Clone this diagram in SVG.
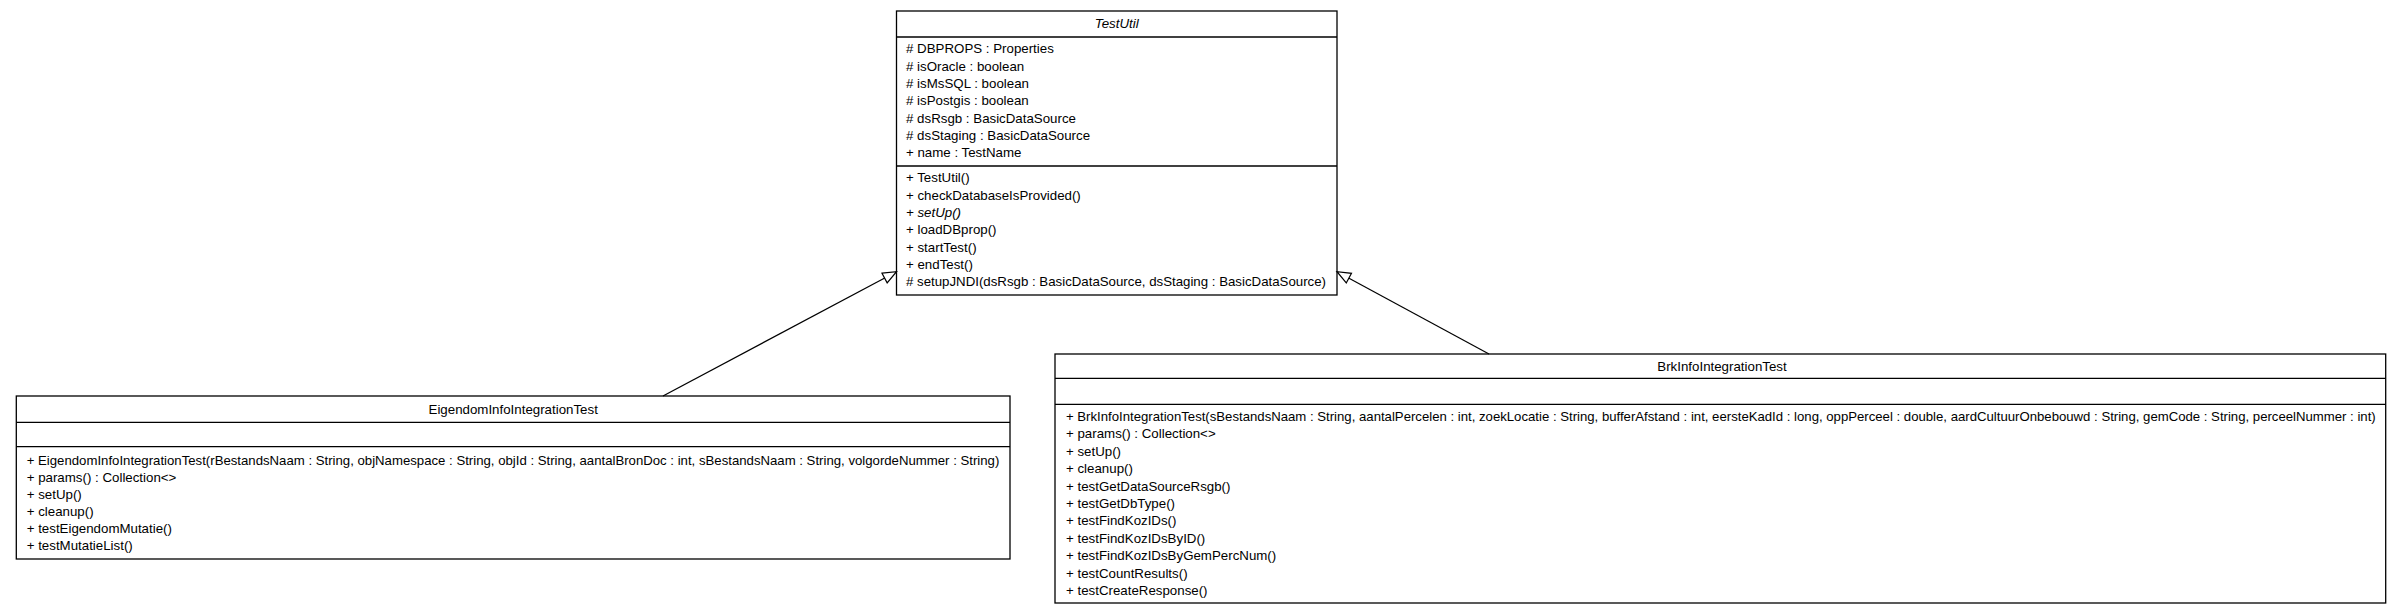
<svg xmlns="http://www.w3.org/2000/svg" width="2402" height="613" viewBox="0 0 2402 613">
<style>
.box{fill:#fff;stroke:#000;stroke-width:1.3}
.sep{stroke:#000;stroke-width:1.3}
text{font-family:"Liberation Sans",Arial,sans-serif;font-size:13.3px;fill:#000}
.t{text-anchor:middle}
.i{font-style:italic}
.edge{fill:none;stroke:#000;stroke-width:1.2}
</style>
<defs>
<marker id="gen" markerUnits="userSpaceOnUse" markerWidth="18" markerHeight="14" refX="15" refY="7" orient="auto" viewBox="0 0 18 14">
<path d="M1.5,1.5 L15,7 L1.5,12.5 Z" fill="#fff" stroke="#000" stroke-width="1.2"/>
</marker>
</defs>
<rect width="2402" height="613" fill="#fff"/>

<g id="TestUtil">
<rect class="box" x="896.5" y="11" width="440.5" height="284"/>
<line class="sep" x1="896.5" y1="37" x2="1337" y2="37"/>
<line class="sep" x1="896.5" y1="166" x2="1337" y2="166"/>
<text class="t i" x="1116.7" y="28">TestUtil</text>
<text x="906" y="53.3"># DBPROPS : Properties</text>
<text x="906" y="70.6"># isOracle : boolean</text>
<text x="906" y="87.9"># isMsSQL : boolean</text>
<text x="906" y="105.2"># isPostgis : boolean</text>
<text x="906" y="122.5"># dsRsgb : BasicDataSource</text>
<text x="906" y="139.8"># dsStaging : BasicDataSource</text>
<text x="906" y="157.1">+ name : TestName</text>
<text x="906" y="182.3">+ TestUtil()</text>
<text x="906" y="199.6">+ checkDatabaseIsProvided()</text>
<text class="i" x="906" y="216.9">+ setUp()</text>
<text x="906" y="234.2">+ loadDBprop()</text>
<text x="906" y="251.5">+ startTest()</text>
<text x="906" y="268.8">+ endTest()</text>
<text x="906" y="286.3" textLength="420" lengthAdjust="spacingAndGlyphs"># setupJNDI(dsRsgb : BasicDataSource, dsStaging : BasicDataSource)</text>
</g>

<g id="EigendomInfoIntegrationTest">
<rect class="box" x="16.3" y="396" width="993.7" height="163"/>
<line class="sep" x1="16.3" y1="422.3" x2="1010" y2="422.3"/>
<line class="sep" x1="16.3" y1="446.7" x2="1010" y2="446.7"/>
<text class="t" x="513.2" y="413.5">EigendomInfoIntegrationTest</text>
<text x="26.7" y="465" textLength="972.6" lengthAdjust="spacingAndGlyphs">+ EigendomInfoIntegrationTest(rBestandsNaam : String, objNamespace : String, objId : String, aantalBronDoc : int, sBestandsNaam : String, volgordeNummer : String)</text>
<text x="26.7" y="482">+ params() : Collection&lt;&gt;</text>
<text x="26.7" y="499">+ setUp()</text>
<text x="26.7" y="516">+ cleanup()</text>
<text x="26.7" y="533">+ testEigendomMutatie()</text>
<text x="26.7" y="550">+ testMutatieList()</text>
</g>

<g id="BrkInfoIntegrationTest">
<rect class="box" x="1055" y="354" width="1330.7" height="249"/>
<line class="sep" x1="1055" y1="378.3" x2="2385.7" y2="378.3"/>
<line class="sep" x1="1055" y1="404.3" x2="2385.7" y2="404.3"/>
<text class="t" x="1722" y="370.5">BrkInfoIntegrationTest</text>
<text x="1066" y="421" textLength="1309.7" lengthAdjust="spacingAndGlyphs">+ BrkInfoIntegrationTest(sBestandsNaam : String, aantalPercelen : int, zoekLocatie : String, bufferAfstand : int, eersteKadId : long, oppPerceel : double, aardCultuurOnbebouwd : String, gemCode : String, perceelNummer : int)</text>
<text x="1066" y="438.4">+ params() : Collection&lt;&gt;</text>
<text x="1066" y="455.8">+ setUp()</text>
<text x="1066" y="473.2">+ cleanup()</text>
<text x="1066" y="490.6">+ testGetDataSourceRsgb()</text>
<text x="1066" y="508">+ testGetDbType()</text>
<text x="1066" y="525.4">+ testFindKozIDs()</text>
<text x="1066" y="542.8">+ testFindKozIDsByID()</text>
<text x="1066" y="560.2">+ testFindKozIDsByGemPercNum()</text>
<text x="1066" y="577.6">+ testCountResults()</text>
<text x="1066" y="595">+ testCreateResponse()</text>
</g>

<g id="connectors">
<path class="edge" d="M663,396 L896.5,271.7" marker-end="url(#gen)"/>
<path class="edge" d="M1489,354 L1337,271.7" marker-end="url(#gen)"/>
</g>
</svg>
